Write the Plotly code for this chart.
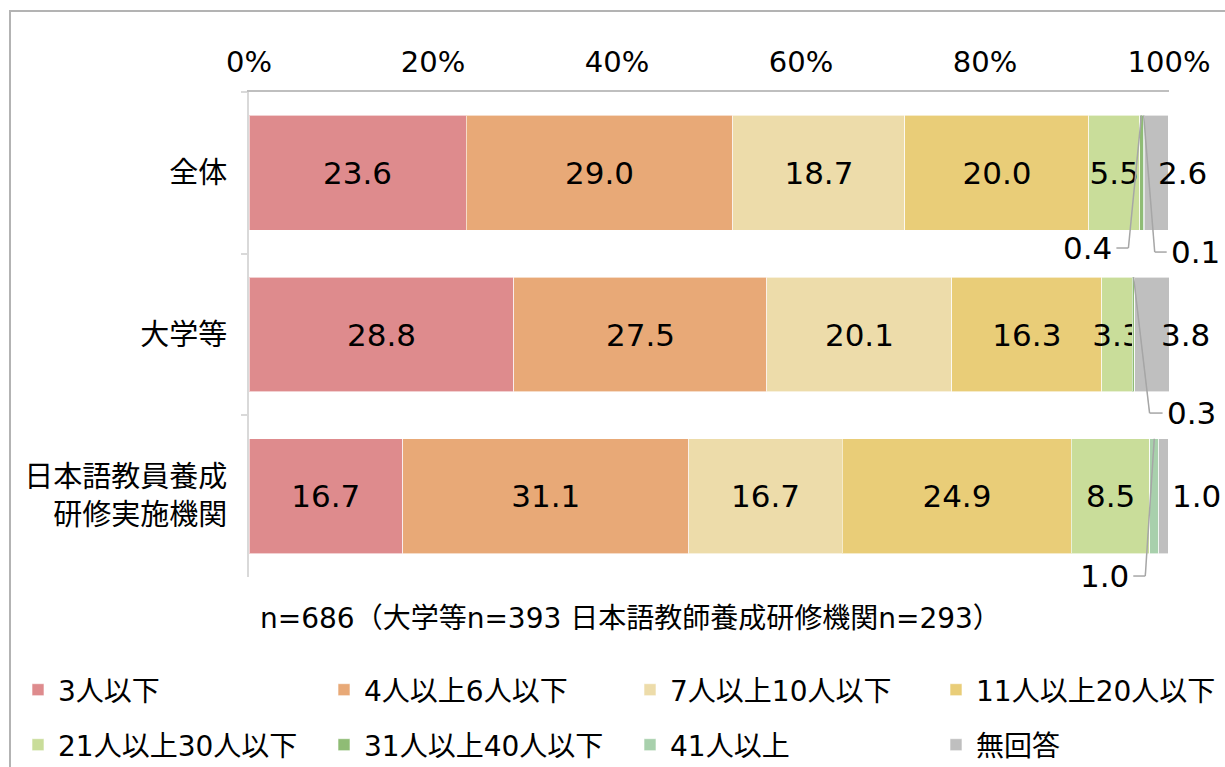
import plotly.graph_objects as go

categories = ['全体', '大学等', '日本語教員養成<br>研修実施機関']
series_names = ['3人以下', '4人以上6人以下', '7人以上10人以下', '11人以上20人以下',
                '21人以上30人以下', '31人以上40人以下', '41人以上', '無回答']
values = [
    [23.6, 28.8, 16.7],   # 3人以下
    [29.0, 27.5, 31.1],   # 4人以上6人以下
    [18.7, 20.1, 16.7],   # 7人以上10人以下
    [20.0, 16.3, 24.9],   # 11人以上20人以下
    [5.5, 3.3, 8.5],      # 21人以上30人以下
    [0.4, 0.3, 0.0],      # 31人以上40人以下
    [0.1, 0.0, 1.0],      # 41人以上
    [2.6, 3.8, 1.0],      # 無回答
]
colors = ['#DE8B8D', '#E8A977', '#EDDCAA', '#E9CD78', '#C9DD9A', '#8FBC75', '#A8D0AC', '#BFBFBF']
x_ticks = [0, 20, 40, 60, 80, 100]
x_tick_labels = ['0%', '20%', '40%', '60%', '80%', '100%']
footer = 'n=686（大学等n=393 日本語教師養成研修機関n=293）'

NUM_FONT = 'DejaVu Sans, Noto Sans CJK JP'
JP_FONT = 'DejaVu Sans, Noto Sans CJK JP'

# legend slots: row 1 items 0-3, row 2 items 4-7, in two legend blocks per row
legend_ids = ['legend', 'legend', 'legend2', 'legend2', 'legend3', 'legend3', 'legend4', 'legend4']

fig = go.Figure()
for i, (name, vals, col) in enumerate(zip(series_names, values, colors)):
    inside = i <= 4
    fig.add_trace(go.Bar(
        y=categories, x=vals, name=name, orientation='h',
        marker=dict(color=col, line=dict(color='rgba(255,255,255,0.6)', width=1)),
        text=[f'{v:.1f}' for v in vals] if inside else None,
        textposition='inside' if inside else 'none',
        insidetextanchor='middle',
        textangle=0,
        constraintext='none',
        textfont=dict(family=NUM_FONT, size=31, color='#000000'),
        legend=legend_ids[i],
        hoverinfo='skip',
    ))

W_PX, PX0 = 920, 249
px_per_unit = W_PX / 100.0
H_PX, PY0 = 485, 92
half_bar = (1 - 0.29) / 2

def cum_center(series_idx, cat_idx):
    left = sum(values[k][cat_idx] for k in range(series_idx))
    return left + values[series_idx][cat_idx] / 2

annotations = []
shapes = []

# leader-line labels for tiny segments:
# (series, category, elbow dx(px), elbow y offset (category units), arm length px, side)
leaders = [
    (5, 0, -13, 0.465, -12, 'right'),
    (6, 0, 11, 0.49, 12, 'left'),
    (5, 1, 16, 0.486, 13, 'left'),
    (6, 2, -9, 0.494, -12, 'right'),
]
for s, c, dx, dy, arm, side in leaders:
    xc = cum_center(s, c)
    ytop = c - half_bar
    xe = xc + dx / px_per_unit
    ye = c + dy
    xa = xe + arm / px_per_unit
    line = dict(color='#A6A6A6', width=1.5)
    shapes.append(dict(type='line', xref='x', yref='y', x0=xc, y0=ytop, x1=xe, y1=ye, line=line))
    shapes.append(dict(type='line', xref='x', yref='y', x0=xe, y0=ye, x1=xa, y1=ye, line=line))
    annotations.append(dict(
        x=xa, y=ye, xref='x', yref='y', text=f'{values[s][c]:.1f}', showarrow=False,
        xanchor='left' if side == 'left' else 'right', yanchor='middle',
        xshift=2 if side == 'left' else -2,
        font=dict(family=NUM_FONT, size=31, color='#000000')))

# 無回答 labels shifted right of segment
no_answer_shift = [26, 33, 33]
for c in range(3):
    annotations.append(dict(
        x=cum_center(7, c), y=c, xref='x', yref='y', text=f'{values[7][c]:.1f}',
        showarrow=False, xanchor='center', yanchor='middle', xshift=no_answer_shift[c],
        font=dict(family=NUM_FONT, size=31, color='#000000')))

annotations.append(dict(
    x=(258 - PX0) / W_PX, y=(577 - 618) / H_PX, xref='paper', yref='paper', text=footer,
    showarrow=False, xanchor='left', yanchor='middle',
    font=dict(family=JP_FONT, size=28, color='#000000')))

# outer frame
shapes.append(dict(type='rect', xref='paper', yref='paper',
                   x0=(10 - PX0) / W_PX, x1=(1240 - PX0) / W_PX,
                   y0=(577 - 790) / H_PX, y1=(577 - 11) / H_PX,
                   line=dict(color='#B3B3B3', width=2), fillcolor='rgba(0,0,0,0)', layer='below'))

legend_common = dict(orientation='h', xanchor='left', yanchor='middle',
                     font=dict(family=JP_FONT, size=28, color='#000000'),
                     entrywidth=261, entrywidthmode='pixels', bgcolor='rgba(0,0,0,0)',
                     traceorder='normal', itemclick=False, itemdoubleclick=False)

col_a = (18 - PX0) / W_PX
col_b = (630 - PX0) / W_PX
row_1 = (577 - 690) / H_PX
row_2 = (577 - 745) / H_PX

fig.update_layout(
    width=1225, height=767,
    margin=dict(l=249, r=56, t=92, b=190, autoexpand=False),
    paper_bgcolor='white', plot_bgcolor='white',
    barmode='stack', bargap=0.29,
    showlegend=True,
    legend=dict(x=col_a, y=row_1, **legend_common),
    legend2=dict(x=col_b, y=row_1, **legend_common),
    legend3=dict(x=col_a, y=row_2, **legend_common),
    legend4=dict(x=col_b, y=row_2, **legend_common),
    xaxis=dict(range=[0, 100], side='top', tickvals=x_ticks, ticktext=x_tick_labels,
               showgrid=False, zeroline=False, showline=True, linecolor='#BFBFBF', linewidth=1.5,
               ticks='', ticklabelstandoff=7, automargin=False,
               tickfont=dict(family=NUM_FONT, size=29, color='#000000'), fixedrange=True),
    yaxis=dict(type='category', range=[2.5, -0.5], showgrid=False, zeroline=False,
               showline=True, linecolor='#D9D9D9', linewidth=2, automargin=False,
               ticks='outside', tickson='boundaries', ticklen=6, tickcolor='#D9D9D9', tickwidth=1.5,
               ticklabelstandoff=14,
               tickfont=dict(family=JP_FONT, size=29, color='#000000'), fixedrange=True),
    annotations=annotations,
    shapes=shapes,
)

fig.write_html('out.html', config={'displayModeBar': False},
               post_script="document.body.style.margin='0';document.body.style.overflow='hidden';")
